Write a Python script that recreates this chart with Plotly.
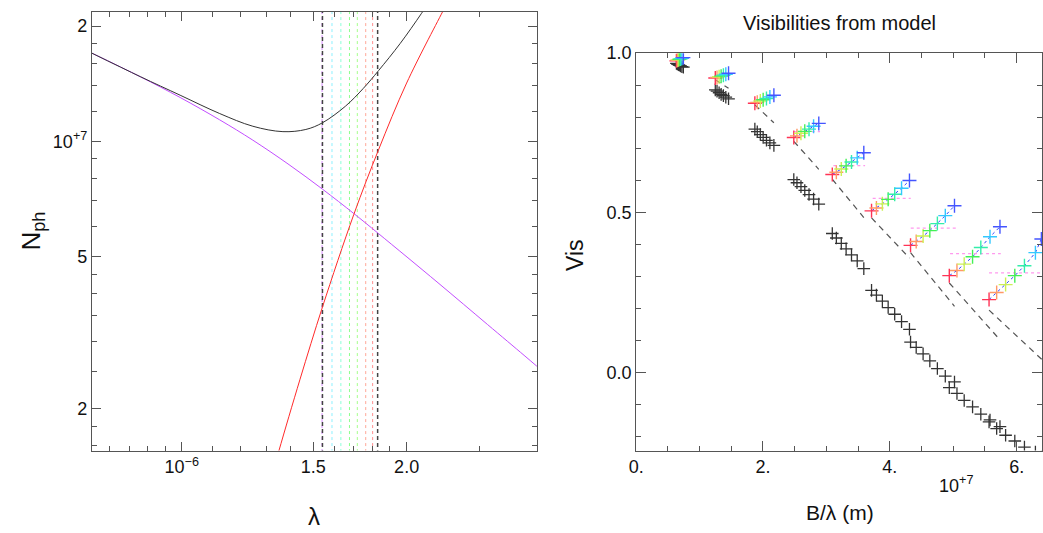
import plotly.graph_objects as go

# ---------------- Left panel data (lambda in micron, N_ph) ----------------
lam_purple = [0.758, 0.880, 0.995, 1.124, 1.245, 1.392, 1.543, 1.699, 1.834, 2.203, 2.567, 2.872, 2.991]
nph_purple = [1.70e7, 1.475e7, 1.302e7, 1.138e7, 1.007e7, 8.69e6, 7.50e6, 6.48e6, 5.74e6, 4.27e6, 3.32e6, 2.76e6, 2.58e6]

lam_red = [1.30, 1.348, 1.44, 1.543, 1.699, 1.834, 2.0, 2.237, 2.30]
nph_red = [1.2e6, 1.545e6, 2.39e6, 3.69e6, 6.43e6, 9.5e6, 1.42e7, 2.19e7, 2.43e7]

lam_black = [0.758, 0.880, 0.995, 1.124, 1.245, 1.366, 1.466, 1.543, 1.656, 1.750, 1.834, 1.960, 2.094, 2.20]
nph_black = [1.70e7, 1.476e7, 1.32e7, 1.182e7, 1.095e7, 1.06e7, 1.074e7, 1.118e7, 1.235e7, 1.375e7,
             1.53e7, 1.80e7, 2.16e7, 2.5e7]

chan_lam = [1.541, 1.589, 1.633, 1.677, 1.718, 1.763, 1.801]
chan_colors = ['#d98cff', '#8cf0ff', '#8cffd9', '#8cff8c', '#a6ff8c', '#ffa899', '#ff9090']
band_edges = [1.543, 1.829]

lam_ticks = [1.0, 1.5, 2.0]
lam_ticktext = ['10<sup>\u22126</sup>', '1.5', '2.0']
lam_minor = [0.8, 0.85, 0.9, 0.95, 1.1, 1.2, 1.3, 1.4, 1.6, 1.7, 1.8, 1.9, 2.5]
nph_ticks = [2e6, 5e6, 1e7, 2e7]
nph_ticktext = ['2', '5', '10<sup>+7</sup>', '2']
nph_minor = [1.6e6, 1.8e6, 2.5e6, 3e6, 3.5e6, 4e6, 4.5e6, 6e6, 7e6, 8e6, 9e6,
             1.2e7, 1.4e7, 1.6e7, 1.8e7]

# ---------------- Right panel data (B/lambda in 1e7 m^-1, visibility) ----------------
vis_x = [
    [0.635, 0.650, 0.667, 0.683, 0.702, 0.722, 0.745],
    [1.248, 1.275, 1.308, 1.340, 1.376, 1.414, 1.457],
    [1.872, 1.910, 1.958, 2.003, 2.055, 2.109, 2.172],
    [2.486, 2.536, 2.599, 2.659, 2.726, 2.798, 2.880],
    [3.093, 3.157, 3.235, 3.311, 3.396, 3.486, 3.590],
    [3.712, 3.789, 3.883, 3.974, 4.077, 4.185, 4.310],
    [4.327, 4.416, 4.525, 4.631, 4.750, 4.875, 5.020],
    [4.938, 5.059, 5.173, 5.305, 5.435, 5.580, 5.737],
    [5.565, 5.685, 5.826, 5.971, 6.123, 6.296, 6.390],
]
vis_y = [
    [0.976, 0.978, 0.979, 0.981, 0.982, 0.984, 0.986],
    [0.922, 0.924, 0.926, 0.928, 0.931, 0.934, 0.937],
    [0.843, 0.846, 0.850, 0.854, 0.858, 0.863, 0.868],
    [0.736, 0.741, 0.749, 0.755, 0.762, 0.771, 0.780],
    [0.620, 0.627, 0.637, 0.647, 0.659, 0.672, 0.688],
    [0.506, 0.515, 0.528, 0.542, 0.558, 0.577, 0.601],
    [0.398, 0.410, 0.427, 0.444, 0.466, 0.491, 0.522],
    [0.303, 0.319, 0.339, 0.362, 0.391, 0.425, 0.456],
    [0.228, 0.250, 0.275, 0.303, 0.334, 0.375, 0.418],
]
blk_y = [
    [0.968, 0.966, 0.964, 0.962, 0.960, 0.958, 0.956],
    [0.885, 0.881, 0.876, 0.871, 0.867, 0.862, 0.857],
    [0.762, 0.754, 0.745, 0.736, 0.727, 0.719, 0.711],
    [0.604, 0.594, 0.582, 0.570, 0.557, 0.543, 0.527],
    [0.435, 0.421, 0.404, 0.387, 0.368, 0.349, 0.325],
    [0.257, 0.242, 0.223, 0.203, 0.182, 0.159, 0.135],
    [0.095, 0.078, 0.058, 0.036, 0.012, -0.012, -0.030],
    [-0.048, -0.066, -0.088, -0.108, -0.131, -0.149, -0.170],
    [-0.155, -0.176, -0.197, -0.215, -0.234, -0.250, -0.265],
]
model_x = [[1.248, 1.457], [1.872, 2.172], [2.486, 2.880], [3.093, 3.590], [3.712, 4.310],
           [4.327, 5.020], [4.938, 5.737], [5.565, 6.40]]
model_y = [[0.917, 0.890], [0.838, 0.782], [0.724, 0.636], [0.605, 0.485], [0.484, 0.358],
           [0.375, 0.207], [0.280, 0.102], [0.195, 0.040]]
mag_x = [[2.486, 2.900], [3.110, 3.610], [3.730, 4.330], [4.330, 5.050], [4.950, 5.750], [5.565, 6.45]]
mag_y = [0.754, 0.648, 0.545, 0.452, 0.372, 0.312]
cross_colors = ['#ff3355', '#ff9966', '#ccf055', '#44f055', '#33eeaa', '#33c8ff', '#4455ff']

vis_ticks = [0, 2, 4, 6]
vis_ticktext = ['0.', '2.', '4.', '6.']

W, H = 1043, 533
FONT = 'Liberation Sans, Arial, Helvetica, sans-serif'
INK = '#111111'
AX = '#555555'

fig = go.Figure()

# ---- left panel ----
NLO, NHI = 1.0e6, 3.0e7
for lam, col in zip(chan_lam, chan_colors):
    fig.add_trace(go.Scatter(x=[lam, lam], y=[NLO, NHI], mode='lines', xaxis='x', yaxis='y',
                             line=dict(color=col, width=1, dash='dot'), hoverinfo='skip'))
for lam in band_edges:
    fig.add_trace(go.Scatter(x=[lam, lam], y=[NLO, NHI], mode='lines', xaxis='x', yaxis='y',
                             line=dict(color='#444444', width=1.5, dash='4px,3px'), hoverinfo='skip'))
fig.add_trace(go.Scatter(x=lam_purple, y=nph_purple, mode='lines', xaxis='x', yaxis='y',
                         line=dict(color='#c24dff', width=1, shape='spline')))
fig.add_trace(go.Scatter(x=lam_red, y=nph_red, mode='lines', xaxis='x', yaxis='y',
                         line=dict(color='#ff2a2a', width=1, shape='spline')))
fig.add_trace(go.Scatter(x=lam_black, y=nph_black, mode='lines', xaxis='x', yaxis='y',
                         line=dict(color='#333333', width=1, shape='spline')))

# ---- right panel ----
def joined(xs, ys):
    X, Y = [], []
    for a, b in zip(xs, ys):
        X += list(a) + [None]
        Y += list(b) + [None]
    return X, Y

mx, my = joined(mag_x, [[v, v] for v in mag_y])
fig.add_trace(go.Scatter(x=mx, y=my, mode='lines', xaxis='x2', yaxis='y2',
                         line=dict(color='#ff99ee', width=1.3, dash='dot'), hoverinfo='skip'))
bx, by = joined(vis_x, vis_y)
fig.add_trace(go.Scatter(x=bx, y=by, mode='lines', xaxis='x2', yaxis='y2',
                         line=dict(color='#3344ff', width=1, dash='3px,3px'), hoverinfo='skip'))
dx, dy = joined(model_x, model_y)
fig.add_trace(go.Scatter(x=dx, y=dy, mode='lines', xaxis='x2', yaxis='y2',
                         line=dict(color='#555555', width=1.2, dash='6px,5px'), hoverinfo='skip'))
kx = [v for g in vis_x for v in g]
ky = [v for g in blk_y for v in g]
fig.add_trace(go.Scatter(x=kx, y=ky, mode='markers', xaxis='x2', yaxis='y2',
                         marker=dict(symbol='cross-thin', size=9,
                                     line=dict(color='#333333', width=1.3))))
for c, col in enumerate(cross_colors):
    fig.add_trace(go.Scatter(x=[g[c] for g in vis_x], y=[g[c] for g in vis_y],
                             mode='markers', xaxis='x2', yaxis='y2',
                             marker=dict(symbol='cross-thin', size=10,
                                         line=dict(color=col, width=1.4))))

def px(x):
    return x / W

def py(y):
    return 1 - y / H

common = dict(showline=True, linecolor=AX, linewidth=1, mirror='allticks', ticks='inside',
              tickcolor=AX, showgrid=False, zeroline=False,
              tickfont=dict(family=FONT, size=18, color=INK))

fig.update_layout(
    width=W, height=H, margin=dict(l=0, r=0, t=0, b=0),
    paper_bgcolor='white', plot_bgcolor='white', showlegend=False,
    xaxis=dict(domain=[px(84.5), px(533)], type='log', range=[-0.1203, 0.4754],
               tickvals=lam_ticks, ticktext=lam_ticktext, ticklen=9,
               minor=dict(tickvals=lam_minor, ticks='inside', ticklen=5, tickcolor=AX),
               anchor='y', **common),
    yaxis=dict(domain=[py(449), py(2)], type='log', range=[6.192, 7.338],
               tickvals=nph_ticks, ticktext=nph_ticktext, ticklen=9,
               minor=dict(tickvals=nph_minor, ticks='inside', ticklen=5, tickcolor=AX),
               anchor='x', **common),
    xaxis2=dict(domain=[px(633), px(1042)], range=[0, 6.40],
                tickvals=vis_ticks, ticktext=vis_ticktext, ticklen=10,
                minor=dict(dtick=0.5, ticks='inside', ticklen=5, tickcolor=AX),
                anchor='y2', **common),
    yaxis2=dict(domain=[py(449), py(44)], range=[-0.245, 1.0],
                dtick=0.5, tickformat='.1f', ticklen=10,
                minor=dict(dtick=0.1, ticks='inside', ticklen=5, tickcolor=AX),
                anchor='x2', **common),
)

annos = [
    dict(text='Visibilities from model', x=px(837.5), y=py(13), size=20, angle=0),
    dict(text='Vis', x=px(572), y=py(250), size=23, angle=-90),
    dict(text='B/\u03bb (m)', x=px(838), y=py(512), size=21, angle=0),
    dict(text='10<sup>+7</sup>', x=px(955), y=py(484), size=18, angle=0),
    dict(text='N<sub>ph</sub>', x=px(25), y=py(225), size=26, angle=-90),
    dict(text='\u03bb', x=px(308), y=py(516), size=24, angle=0),
]
for a in annos:
    fig.add_annotation(text=a['text'], x=a['x'], y=a['y'], xref='paper', yref='paper',
                       showarrow=False, textangle=a['angle'], xanchor='center', yanchor='middle',
                       font=dict(family=FONT, size=a['size'], color=INK))

fig.write_html('out.html', config={'displayModeBar': False},
               post_script="document.body.style.margin='0px';")
